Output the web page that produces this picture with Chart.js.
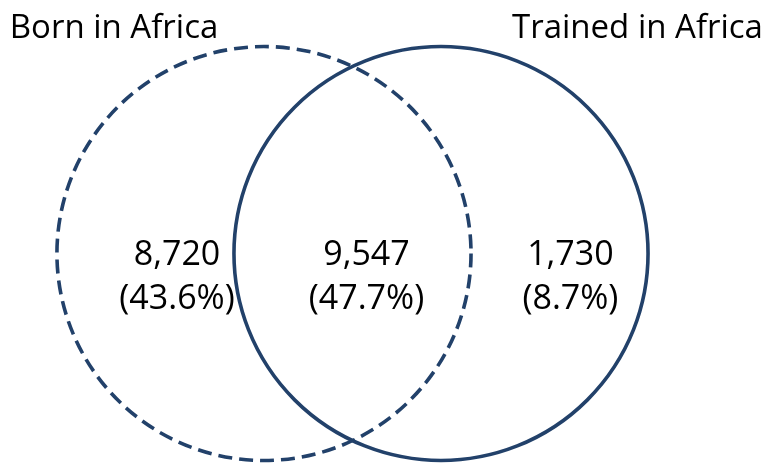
<!DOCTYPE html>
<html>
<head>
<meta charset="utf-8">
<script src="https://cdn.jsdelivr.net/npm/chart.js@4/dist/chart.umd.min.js"></script>
<style>
  html, body { margin: 0; padding: 0; background: #fff; }
  #wrap { width: 776px; height: 464px; position: relative; }
</style>
</head>
<body>
<div id="wrap"><canvas id="vennChart"></canvas></div>
<script>
// Venn data
const setNames = ['Born in Africa', 'Trained in Africa'];
const regionCounts = [8720, 9547, 1730];      // born only, both, trained only
const regionShares = [43.6, 47.7, 8.7];       // percent of total

// layout (in chart units, one unit = one circle radius)
const circleCentres = [{ x: 0, y: 0 }, { x: 0.855, y: 0 }];
const circleRadius = 1;
const circleDashed = [true, false];
const regionLabelPos = [{ x: -0.42, y: -0.115 }, { x: 0.495, y: -0.115 }, { x: 1.48, y: -0.115 }];
const titlePos = [{ x: -1.228, y: 1.04, align: 'left' }, { x: 2.41, y: 1.04, align: 'right' }];

const navy = '#22416a';

const vennPlugin = {
    id: 'venn',
    afterDatasetsDraw(chart) {
        const ctx = chart.ctx;
        const xs = chart.scales.x, ys = chart.scales.y;
        const meta = chart.getDatasetMeta(0);

        // circles
        meta.data.forEach((pt, i) => {
            const rx = Math.abs(xs.getPixelForValue(circleRadius) - xs.getPixelForValue(0));
            const ry = Math.abs(ys.getPixelForValue(circleRadius) - ys.getPixelForValue(0));
            ctx.save();
            ctx.strokeStyle = navy;
            ctx.lineWidth = 3.6;
            ctx.setLineDash(circleDashed[i] ? [14, 7] : []);
            ctx.beginPath();
            ctx.ellipse(pt.x, pt.y, rx, ry, 0, 0, Math.PI * 2);
            ctx.stroke();
            ctx.restore();
        });

        // set titles
        ctx.save();
        ctx.fillStyle = '#000';
        ctx.font = '33px "Open Sans", sans-serif';
        ctx.textBaseline = 'alphabetic';
        setNames.forEach((name, i) => {
            ctx.textAlign = titlePos[i].align;
            ctx.fillText(name, xs.getPixelForValue(titlePos[i].x), ys.getPixelForValue(titlePos[i].y));
        });

        // region counts and shares
        ctx.font = '34px "Open Sans", sans-serif';
        ctx.textAlign = 'center';
        ctx.textBaseline = 'middle';
        regionCounts.forEach((n, i) => {
            const px = xs.getPixelForValue(regionLabelPos[i].x);
            const py = ys.getPixelForValue(regionLabelPos[i].y);
            ctx.fillText(n.toLocaleString('en-US'), px, py - 22);
            ctx.fillText('(' + regionShares[i].toFixed(1) + '%)', px, py + 22);
        });
        ctx.restore();
    }
};

const canvas = document.getElementById('vennChart');
new Chart(canvas.getContext('2d'), {
    type: 'scatter',
    data: {
        datasets: [{
            label: 'Sets',
            data: circleCentres,
            pointRadius: 0,
            pointHoverRadius: 0
        }]
    },
    options: {
        responsive: true,
        maintainAspectRatio: false,
        animation: false,
        layout: { padding: 0 },
        plugins: {
            legend: { display: false },
            tooltip: { enabled: false }
        },
        scales: {
            x: { type: 'linear', min: -1.275, max: 2.473, display: false },
            y: { type: 'linear', min: -1.017, max: 1.225, display: false }
        }
    },
    plugins: [vennPlugin]
});
</script>
</body>
</html>
